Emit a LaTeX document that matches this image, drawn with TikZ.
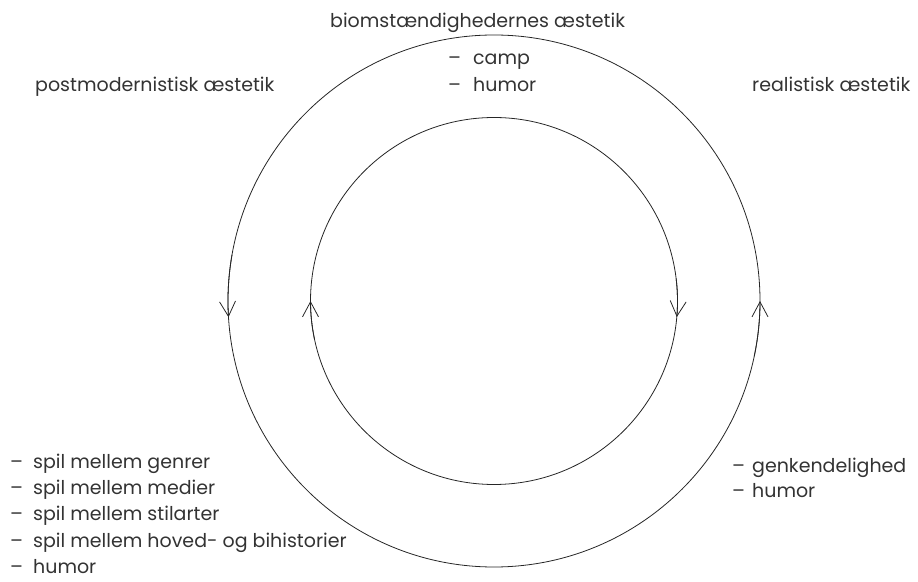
\documentclass[tikz,border=0pt]{standalone}
\usepackage{fontspec}
\setmainfont{Poppins}
\usetikzlibrary{arrows.meta}
\tikzset{
  ring/.style={line width=0.8pt, black!85},
  flow/.style={ring, -{Straight Barb[length=15pt, width=16pt, line width=0.8pt]}},
  lbl/.style={anchor=base west, inner sep=0pt, text=black!80, font=\fontsize{19}{22}\selectfont},
}
\newcommand{\dashitem}[2][23pt]{\makebox[#1][l]{–}#2}

\begin{document}
\begin{tikzpicture}[x=1pt, y=1pt]
  \useasboundingbox (0,0) rectangle (918,581);
  \coordinate (c) at (494,280);
  \draw [ring] (c) circle [radius=266];
  \draw [ring] (c) circle [radius=183.5];
  % direction marks on the rings
  \draw [flow] (c) ++(170:266) arc (170:183.5:266);
  \draw [flow] (c) ++(-12:266) arc (-12:0:266);
  \draw [flow] (c) ++(192:183.5) arc (192:180:183.5);
  \draw [flow] (c) ++(7:183.5) arc (7:-5:183.5);
  % headings
  \node (bio) [lbl] at (330,553) {biomstændighedernes æstetik};
  \node (pm) [lbl] at (35,489) {postmodernistisk æstetik};
  \node (real) [lbl] at (752,489) {realistisk æstetik};
  % lists
  \foreach \txt [count=\i] in {camp, humor}
    \node (bio\i) [lbl] at (448,543-27*\i) {\dashitem[25pt]{\txt}};
  \foreach \txt [count=\i] in {spil mellem genrer, spil mellem medier, spil mellem stilarter, spil mellem hoved- og bihistorier, humor}
    \node (pm\i) [lbl] at (10,138-26*\i) {\dashitem{\txt}};
  \foreach \txt [count=\i] in {genkendelighed, humor}
    \node (real\i) [lbl] at (732,133-25*\i) {\dashitem[20pt]{\txt}};
\end{tikzpicture}
\end{document}
